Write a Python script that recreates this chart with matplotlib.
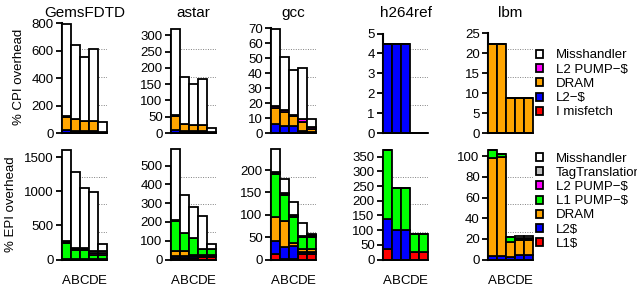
from matplotlib import pyplot as plt
from matplotlib.patches import Patch
import numpy as np

plt.rcParams["font.family"] = "Liberation Sans"

benchmarks = ["GemsFDTD", "astar", "gcc", "h264ref", "lbm"]
configs = ["A", "B", "C", "D", "E"]

# CPI overhead components, one row per benchmark, one column per config
cpi_misfetch = [[0, 0, 0, 0, 0], [0, 0, 0, 0, 0], [0.3, 0.3, 0.3, 0.2, 0.1], [0, 0, 0, 0, 0], [0, 0, 0, 0, 0]]
cpi_l2 = [[25, 15, 15, 15, 0], [10, 5, 5, 5, 0], [5.5, 4.5, 4.5, 1, 0.3], [4.45, 4.45, 4.45, 0, 0], [0, 0, 0, 0, 0]]
cpi_dram = [[90, 85, 70, 70, 0], [42, 22, 20, 20, 2], [11, 9.5, 6.5, 6.5, 2], [0, 0, 0, 0, 0], [22.3, 22.3, 8.8, 8.8, 8.8]]
cpi_l2pump = [[10, 3, 2, 2, 8], [2, 1, 1, 1, 1], [1.5, 1, 0.5, 1.5, 1.5], [0, 0, 0, 0, 0], [0, 0, 0, 0, 0]]
cpi_miss = [[665, 540, 467, 523, 72], [265, 145, 123, 140, 12], [51.5, 35.5, 30.5, 34, 5.8], [0, 0, 0, 0, 0], [0, 0, 0, 0, 0]]

# EPI overhead components
epi_l1 = [[0, 0, 0, 0, 0], [8, 8, 8, 12, 12], [12, 2, 2, 12, 12], [37, 0, 0, 26, 26], [0, 0, 0, 0, 0]]
epi_l2 = [[3, 3, 3, 3, 3], [8, 8, 8, 4, 4], [30, 27, 28, 5, 5], [100, 100, 100, 0, 0], [3, 3, 2, 4, 4]]
epi_dram = [[3, 3, 3, 2, 2], [28, 28, 10, 10, 10], [52, 58, 8, 6, 6], [0, 0, 0, 0, 0], [95, 96, 15, 15, 15]]
epi_l1pump = [[240, 135, 135, 55, 55], [160, 95, 89, 28, 28], [98, 57, 58, 27, 27], [236, 144, 144, 60, 60], [8, 3, 5, 1, 1]]
epi_l2pump = [[15, 15, 15, 40, 40], [2, 1, 1, 1, 1], [2, 2, 2, 1, 3], [0, 0, 0, 0, 0], [0, 0, 0, 0.5, 0.5]]
epi_tag = [[15, 15, 15, 30, 30], [3, 2, 1, 2, 2], [2, 2, 1, 1, 2], [0, 0, 0, 0, 0], [0, 0, 0, 0.5, 0.5]]
epi_miss = [[1330, 1109, 883, 855, 100], [378, 201, 164, 173, 25], [50, 33, 30, 29, 2], [0, 0, 0, 0, 0], [0, 0, 0, 2, 2]]

cpi_ylim = [815, 344, 75, 5.63, 28]
epi_ylim = [1622, 588, 247, 376, 107]
cpi_ticks = [np.arange(0, 801, 200), np.arange(0, 301, 50), np.arange(0, 71, 10), np.arange(0, 6), np.arange(0, 26, 5)]
epi_ticks = [np.arange(0, 1501, 500), np.arange(0, 501, 100), np.arange(0, 201, 50), np.arange(0, 351, 50), np.arange(0, 101, 20)]

cpi_parts = [
    ("I misfetch", "#ff0000", cpi_misfetch),
    ("L2\u2212$", "#0000ff", cpi_l2),
    ("DRAM", "#ffa500", cpi_dram),
    ("L2 PUMP\u2212$", "#ff00ff", cpi_l2pump),
    ("Misshandler", "white", cpi_miss),
]
epi_parts = [
    ("L1$", "#ff0000", epi_l1),
    ("L2$", "#0000ff", epi_l2),
    ("DRAM", "#ffa500", epi_dram),
    ("L1 PUMP\u2212$", "#00ff00", epi_l1pump),
    ("L2 PUMP\u2212$", "#ff00ff", epi_l2pump),
    ("TagTranslation", "#bebebe", epi_tag),
    ("Misshandler", "white", epi_miss),
]

W, H = 637, 288
fig = plt.figure(figsize=(W / 100, H / 100), dpi=100)

lefts = [62, 171, 271, 383, 488]
x = np.arange(5) + 0.5


def draw_panel(ax, parts, i, ylim, ticks):
    bottom = np.zeros(5)
    for label, color, data in parts:
        vals = np.array(data[i], dtype=float)
        ax.bar(x, vals, width=1, bottom=bottom, color=color, edgecolor="black",
               linewidth=1.3, zorder=3, clip_on=False)
        bottom += vals
    # dotted guide lines at quarters of the panel
    for f in [0.25, 0.5, 0.75]:
        ax.plot([0, 1], [f, f], transform=ax.transAxes, color="gray",
                linestyle=(0, (1, 1.5)), linewidth=0.7, zorder=1)
    ax.set_xlim(0, 5)
    ax.set_ylim(0, ylim)
    ax.set_yticks(ticks)
    ax.tick_params(axis="y", labelsize=9.5, length=4, width=1.3, pad=2)
    for s in ["top", "right"]:
        ax.spines[s].set_visible(False)
    # baseline under the bars (shows where a bar is empty)
    ax.spines["bottom"].set_linewidth(1.3)
    ax.spines["bottom"].set_zorder(4)
    ax.spines["left"].set_linewidth(1.5)
    ax.spines["left"].set_bounds(0, ticks[-1])


for i, name in enumerate(benchmarks):
    ax = fig.add_axes([lefts[i] / W, (H - 133) / H, 45 / W, 112 / H])
    draw_panel(ax, cpi_parts, i, cpi_ylim[i], cpi_ticks[i])
    ax.set_xticks([])
    ax.set_title(name, fontsize=11, pad=3)
    if i == 0:
        ax.set_ylabel("% CPI overhead", fontsize=9.5, labelpad=5)

    ax2 = fig.add_axes([lefts[i] / W, (H - 259.5) / H, 45 / W, 110.5 / H])
    draw_panel(ax2, epi_parts, i, epi_ylim[i], epi_ticks[i])
    ax2.set_xticks(x)
    ax2.set_xticklabels(configs, fontsize=9.5)
    ax2.tick_params(axis="x", length=0, pad=11)
    if i == 0:
        ax2.set_ylabel("% EPI overhead", fontsize=9.5, labelpad=5)

# legends, listed top-down in reverse stacking order
for parts, top in [(cpi_parts, 49.5), (epi_parts, 152.5)]:
    handles = [Patch(facecolor=c, edgecolor="black", linewidth=1.3) for _, c, _ in parts[::-1]]
    labels = [lab for lab, _, _ in parts[::-1]]
    fig.legend(handles, labels, loc="upper left", bbox_to_anchor=(535.7 / W, 1 - top / H),
               frameon=False, fontsize=9.5, handlelength=0.55, handleheight=0.55,
               handletextpad=1.0, labelspacing=0.17, borderaxespad=0, borderpad=0)

plt.savefig("out.png", dpi=100)
